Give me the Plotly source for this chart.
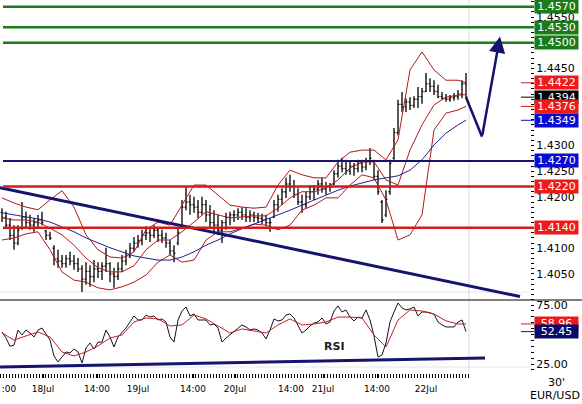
import plotly.graph_objects as go

# ---------------- data ----------------
bar_idx = list(range(117))
opens = [
1.4170, 1.4160, 1.4145, 1.4125, 1.4110, 1.4140, 1.4160, 1.4150, 1.4145, 1.4150,
1.4155, 1.4134, 1.4125, 1.4100, 1.4080, 1.4075, 1.4070, 1.4080, 1.4075, 1.4070,
1.4060, 1.4040, 1.4055, 1.4045, 1.4060, 1.4055, 1.4065, 1.4070, 1.4050, 1.4045,
1.4060, 1.4075, 1.4085, 1.4100, 1.4110, 1.4115, 1.4125, 1.4130, 1.4125, 1.4135,
1.4125, 1.4120, 1.4110, 1.4095, 1.4110, 1.4140, 1.4180, 1.4190, 1.4185, 1.4180,
1.4170, 1.4185, 1.4165, 1.4150, 1.4145, 1.4135, 1.4150, 1.4160, 1.4165, 1.4165,
1.4170, 1.4165, 1.4160, 1.4165, 1.4160, 1.4158, 1.4155, 1.4150, 1.4160, 1.4185,
1.4195, 1.4210, 1.4225, 1.4220, 1.4205, 1.4190, 1.4185, 1.4200, 1.4210, 1.4215,
1.4225, 1.4215, 1.4220, 1.4225, 1.4245, 1.4260, 1.4255, 1.4250, 1.4260, 1.4255,
1.4265, 1.4258, 1.4270, 1.4270, 1.4240, 1.4190, 1.4165, 1.4210, 1.4275, 1.4325,
1.4380, 1.4375, 1.4385, 1.4378, 1.4390, 1.4395, 1.4405, 1.4420, 1.4415, 1.4405,
1.4395, 1.4392, 1.4390, 1.4393, 1.4395, 1.4400, 1.4420]
highs = [
1.4178, 1.4171, 1.4159, 1.4145, 1.4145, 1.4190, 1.4171, 1.4165, 1.4159, 1.4165,
1.4171, 1.4136, 1.4132, 1.4106, 1.4097, 1.4087, 1.4087, 1.4093, 1.4087, 1.4081,
1.4067, 1.4073, 1.4067, 1.4077, 1.4073, 1.4073, 1.4101, 1.4073, 1.4062, 1.4073,
1.4087, 1.4097, 1.4110, 1.4122, 1.4126, 1.4136, 1.4143, 1.4139, 1.4145, 1.4139,
1.4136, 1.4130, 1.4116, 1.4106, 1.4141, 1.4194, 1.4221, 1.4204, 1.4200, 1.4194,
1.4200, 1.4194, 1.4184, 1.4174, 1.4165, 1.4155, 1.4169, 1.4171, 1.4174, 1.4178,
1.4180, 1.4178, 1.4174, 1.4171, 1.4169, 1.4167, 1.4165, 1.4159, 1.4194, 1.4204,
1.4217, 1.4237, 1.4243, 1.4233, 1.4217, 1.4204, 1.4210, 1.4223, 1.4223, 1.4233,
1.4237, 1.4229, 1.4227, 1.4252, 1.4272, 1.4276, 1.4272, 1.4268, 1.4266, 1.4272,
1.4272, 1.4276, 1.4295, 1.4272, 1.4252, 1.4194, 1.4213, 1.4272, 1.4334, 1.4389,
1.4404, 1.4392, 1.4394, 1.4396, 1.4414, 1.4412, 1.4441, 1.4431, 1.4427, 1.4418,
1.4404, 1.4400, 1.4398, 1.4402, 1.4408, 1.4427, 1.4441]
lows = [
1.4151, 1.4139, 1.4116, 1.4097, 1.4106, 1.4136, 1.4139, 1.4136, 1.4132, 1.4139,
1.4145, 1.4116, 1.4116, 1.4067, 1.4062, 1.4062, 1.4062, 1.4067, 1.4058, 1.4054,
1.4015, 1.4029, 1.4025, 1.4034, 1.4042, 1.4038, 1.4054, 1.4034, 1.4023, 1.4038,
1.4054, 1.4067, 1.4081, 1.4093, 1.4101, 1.4106, 1.4116, 1.4112, 1.4120, 1.4112,
1.4110, 1.4101, 1.4087, 1.4073, 1.4106, 1.4139, 1.4174, 1.4165, 1.4169, 1.4159,
1.4165, 1.4151, 1.4139, 1.4132, 1.4126, 1.4110, 1.4136, 1.4145, 1.4151, 1.4155,
1.4155, 1.4151, 1.4151, 1.4151, 1.4149, 1.4147, 1.4143, 1.4132, 1.4159, 1.4171,
1.4184, 1.4198, 1.4210, 1.4198, 1.4184, 1.4169, 1.4178, 1.4194, 1.4194, 1.4204,
1.4208, 1.4204, 1.4210, 1.4223, 1.4237, 1.4248, 1.4243, 1.4243, 1.4241, 1.4248,
1.4248, 1.4252, 1.4262, 1.4233, 1.4204, 1.4149, 1.4161, 1.4204, 1.4272, 1.4320,
1.4365, 1.4365, 1.4369, 1.4373, 1.4373, 1.4381, 1.4404, 1.4404, 1.4398, 1.4392,
1.4389, 1.4385, 1.4385, 1.4387, 1.4389, 1.4392, 1.4392]
closes = [
1.4160, 1.4145, 1.4125, 1.4110, 1.4135, 1.4160, 1.4150, 1.4145, 1.4150, 1.4155,
1.4150, 1.4125, 1.4120, 1.4080, 1.4075, 1.4070, 1.4080, 1.4075, 1.4070, 1.4060,
1.4040, 1.4055, 1.4045, 1.4060, 1.4055, 1.4065, 1.4070, 1.4050, 1.4045, 1.4060,
1.4075, 1.4085, 1.4100, 1.4110, 1.4115, 1.4125, 1.4130, 1.4125, 1.4135, 1.4125,
1.4120, 1.4110, 1.4095, 1.4090, 1.4130, 1.4180, 1.4190, 1.4185, 1.4180, 1.4170,
1.4185, 1.4165, 1.4150, 1.4145, 1.4135, 1.4150, 1.4160, 1.4165, 1.4165, 1.4170,
1.4165, 1.4160, 1.4165, 1.4160, 1.4158, 1.4155, 1.4150, 1.4150, 1.4185, 1.4195,
1.4210, 1.4225, 1.4220, 1.4205, 1.4190, 1.4185, 1.4200, 1.4210, 1.4215, 1.4225,
1.4215, 1.4220, 1.4222, 1.4245, 1.4260, 1.4255, 1.4250, 1.4260, 1.4255, 1.4265,
1.4258, 1.4270, 1.4275, 1.4240, 1.4210, 1.4155, 1.4195, 1.4265, 1.4325, 1.4380,
1.4375, 1.4385, 1.4378, 1.4390, 1.4395, 1.4405, 1.4420, 1.4415, 1.4405, 1.4395,
1.4392, 1.4390, 1.4393, 1.4395, 1.4400, 1.4420, 1.4394]

band_idx = list(range(0, 115, 3)) + [116]
bb_upper = [
1.4198, 1.4188, 1.4180, 1.4175, 1.4194, 1.4212, 1.4180, 1.4126, 1.4097, 1.4083,
1.4081, 1.4093, 1.4136, 1.4151, 1.4145, 1.4184, 1.4223, 1.4223, 1.4204, 1.4184,
1.4180, 1.4178, 1.4180, 1.4223, 1.4252, 1.4243, 1.4237, 1.4237, 1.4268, 1.4287,
1.4291, 1.4291, 1.4272, 1.4311, 1.4447, 1.4482, 1.4447, 1.4427, 1.4427, 1.4422]
bb_mid = [
1.4159, 1.4155, 1.4155, 1.4151, 1.4139, 1.4126, 1.4106, 1.4081, 1.4062, 1.4054,
1.4054, 1.4066, 1.4097, 1.4116, 1.4116, 1.4132, 1.4151, 1.4171, 1.4165, 1.4159,
1.4161, 1.4163, 1.4163, 1.4178, 1.4198, 1.4210, 1.4210, 1.4217, 1.4233, 1.4256,
1.4268, 1.4268, 1.4233, 1.4223, 1.4291, 1.4340, 1.4379, 1.4394, 1.4398, 1.4399]
bb_lower = [
1.4116, 1.4120, 1.4128, 1.4132, 1.4097, 1.4054, 1.4038, 1.4034, 1.4023, 1.4019,
1.4025, 1.4034, 1.4048, 1.4073, 1.4087, 1.4073, 1.4077, 1.4116, 1.4132, 1.4132,
1.4139, 1.4147, 1.4145, 1.4136, 1.4145, 1.4174, 1.4184, 1.4198, 1.4198, 1.4223,
1.4243, 1.4237, 1.4194, 1.4116, 1.4126, 1.4165, 1.4330, 1.4363, 1.4369, 1.4376]
ma_line = [
1.4169, 1.4165, 1.4161, 1.4157, 1.4151, 1.4141, 1.4132, 1.4120, 1.4110, 1.4101,
1.4093, 1.4085, 1.4081, 1.4077, 1.4077, 1.4083, 1.4093, 1.4106, 1.4116, 1.4128,
1.4138, 1.4147, 1.4155, 1.4165, 1.4174, 1.4184, 1.4194, 1.4204, 1.4213, 1.4221,
1.4227, 1.4233, 1.4237, 1.4241, 1.4252, 1.4272, 1.4301, 1.4324, 1.4340, 1.4349]

rsi = [
52.1, 47.0, 40.0, 41.0, 53.8, 49.6, 53.8, 51.3, 47.9, 53.8,
55.5, 50.5, 45.3, 31.8, 26.7, 30.9, 35.2, 34.3, 37.7, 35.2,
25.8, 38.6, 42.8, 37.7, 43.6, 43.6, 53.8, 47.9, 39.4, 47.9,
51.3, 55.5, 60.6, 65.7, 62.3, 62.3, 66.5, 64.8, 65.7, 62.3,
63.2, 60.6, 47.9, 43.6, 62.3, 70.0, 73.3, 65.7, 67.4, 62.3,
62.3, 62.3, 58.1, 58.9, 55.5, 43.6, 47.0, 49.6, 53.0, 55.5,
58.1, 56.4, 53.8, 54.7, 53.8, 51.3, 46.2, 53.8, 63.2, 61.5,
62.3, 66.5, 67.4, 64.0, 57.2, 51.3, 53.8, 57.2, 59.7, 60.6,
64.0, 58.9, 60.6, 70.0, 74.2, 69.1, 70.8, 64.8, 61.5, 64.8,
64.0, 70.8, 62.3, 48.8, 30.9, 32.6, 42.8, 60.6, 69.1, 76.7,
72.5, 70.8, 71.7, 73.3, 65.7, 69.1, 69.1, 68.2, 67.4, 60.6,
58.1, 56.4, 56.4, 56.4, 60.6, 62.3, 52.45]
rsi_signal = [
51.3, 45.3, 48.8, 52.1, 47.9, 35.2, 31.8, 35.2, 40.3, 47.0,
49.6, 60.6, 64.0, 63.2, 57.2, 58.1, 66.5, 63.2, 57.2, 51.3,
54.7, 53.0, 51.3, 58.1, 63.2, 58.1, 58.9, 60.6, 64.8, 64.8,
64.0, 49.6, 39.4, 62.3, 70.8, 69.9, 67.4, 61.5, 58.9, 58.96]

tick_pos = [1.75, 10.25, 23.75, 34, 47.75, 58.25, 72.25, 80.25, 93.75, 106]
tick_text = [":00", "18Jul", "14:00", "19Jul", "14:00", "20Jul", "14:00", "21Jul", "14:00", "22Jul"]

green_levels = [1.4570, 1.4530, 1.4500]
blue_levels = [1.4270]
red_levels = [1.4220, 1.4140]
trend_x = [-0.5, 129.5]
trend_y = [1.4218, 1.4006]
rsi_trend_x = [-0.5, 120.75]
rsi_trend_y = [22.5, 30.1]
forecast_x = [116, 120, 124.5]
forecast_y = [1.4394, 1.4317, 1.4512]
# axis labels that stay visible (the others sit behind the value boxes)
price_ticks = [1.4050, 1.4100, 1.4200, 1.4250, 1.4300, 1.4450, 1.4550]
rsi_ticks = [25, 75]

# ---------------- styling ----------------
FONT = "DejaVu Sans"
NAVY = "#14146e"
RED = "#d41a1a"
BAND = "#b01818"
GREEN = "#1b7b1b"
PW = 530.0   # plot width in px
PH = 373.0   # plot height in px
def px(v):
    return v / PW
def py(v):   # pixel row (from top) -> paper y
    return (PH - v) / PH

fig = go.Figure()

fig.add_trace(go.Ohlc(x=bar_idx, open=opens, high=highs, low=lows, close=closes,
                      increasing=dict(line=dict(color="black", width=1.3)),
                      decreasing=dict(line=dict(color="black", width=1.3)),
                      tickwidth=0.35, xaxis="x", yaxis="y", hoverinfo="skip"))
for arr, col in [(bb_upper, BAND), (bb_mid, BAND), (bb_lower, BAND), (ma_line, "#22228e")]:
    fig.add_trace(go.Scatter(x=band_idx, y=arr, mode="lines",
                             line=dict(color=col, width=1), xaxis="x", yaxis="y"))
fig.add_trace(go.Scatter(x=trend_x, y=trend_y, mode="lines",
                         line=dict(color=NAVY, width=3), xaxis="x", yaxis="y"))
fig.add_trace(go.Scatter(x=forecast_x[:2], y=forecast_y[:2], mode="lines",
                         line=dict(color=NAVY, width=2.5), xaxis="x", yaxis="y"))

fig.add_trace(go.Scatter(x=bar_idx, y=rsi, mode="lines",
                         line=dict(color="#10102a", width=1), xaxis="x2", yaxis="y2"))
fig.add_trace(go.Scatter(x=band_idx, y=rsi_signal, mode="lines",
                         line=dict(color="#c42020", width=1), xaxis="x2", yaxis="y2"))
fig.add_trace(go.Scatter(x=rsi_trend_x, y=rsi_trend_y, mode="lines",
                         line=dict(color=NAVY, width=3), xaxis="x2", yaxis="y2"))

shapes = []
annos = []
def level_line(v, col, w):
    shapes.append(dict(type="line", xref="paper", yref="y", x0=px(3), x1=px(534),
                       y0=v, y1=v, line=dict(color=col, width=w), layer="above"))

def box(v, text, bg, yref="y", fc="white"):
    annos.append(dict(xref="paper", yref=yref, x=px(534), y=v, xanchor="left",
                      yanchor="middle", text=text, showarrow=False, bgcolor=bg,
                      width=43, height=13, borderpad=0, align="center",
                      font=dict(family=FONT, size=11, color=fc)))

def dash(v, col, yref="y"):
    shapes.append(dict(type="line", xref="paper", yref=yref, x0=px(521), x1=px(534),
                       y0=v, y1=v, line=dict(color=col, width=1)))

# faint panel borders
for row in (292, 367):
    shapes.append(dict(type="line", xref="paper", yref="paper", x0=0, x1=1,
                       y0=py(row), y1=py(row), line=dict(color="#e6e6e6", width=1),
                       layer="below"))

for v in green_levels:
    level_line(v, GREEN, 2.5)
for v in blue_levels:
    level_line(v, NAVY, 2)
for v in red_levels:
    level_line(v, RED, 2.5)

# grey separator of data end
shapes.append(dict(type="line", xref="x", yref="paper", x0=116.75, x1=116.75, y0=0, y1=1,
                   line=dict(color="#dadada", width=1), layer="below"))
# panel separator
sep = 73 / PH
shapes.append(dict(type="line", xref="paper", yref="paper", x0=0, x1=px(582), y0=sep, y1=sep,
                   line=dict(color="black", width=1)))
# time-axis ticks stop at the end of the data
shapes.append(dict(type="rect", xref="paper", yref="paper", x0=px(470), x1=px(529),
                   y0=py(381), y1=py(373.5), fillcolor="white", line=dict(width=0),
                   layer="above"))

for v in green_levels:
    box(v, f"{v:.4f}", GREEN)
for v in blue_levels:
    box(v, f"{v:.4f}", "#0a0ad0")
for v in red_levels:
    box(v, f"{v:.4f}", "#ee1a1a")

dash(bb_upper[-1], RED); dash(closes[-1], "black"); dash(bb_lower[-1], RED); dash(ma_line[-1], "#1010c0")
box(bb_upper[-1], f"{bb_upper[-1]:.4f}", "#ee1a1a")
box(closes[-1], f"{closes[-1]:.4f}", "black")
box(bb_lower[-1], f"{bb_lower[-1]:.4f}", "#ee1a1a")
box(ma_line[-1], f"{ma_line[-1]:.4f}", "#0a0ad0")

dash(rsi_signal[-1], RED, "y2"); dash(rsi[-1], NAVY, "y2")
box(rsi_signal[-1], f"{rsi_signal[-1]:.2f}", "#ee1a1a", "y2")
box(rsi[-1], f"{rsi[-1]:.2f}", "#0a0a6a", "y2")

# forecast arrow head leg
annos.append(dict(x=forecast_x[2], y=forecast_y[2], ax=forecast_x[1], ay=forecast_y[1],
                  xref="x", yref="y", axref="x", ayref="y", showarrow=True, text="",
                  arrowhead=2, arrowsize=1.3, arrowwidth=2.5, arrowcolor=NAVY))

annos.append(dict(xref="x2", yref="y2", x=83, y=40, text="<b>RSI</b>", showarrow=False,
                  font=dict(family=FONT, size=11, color="#1a1a2a")))
annos.append(dict(xref="paper", yref="paper", x=px(556), y=py(382), text="30'",
                  showarrow=False, yanchor="middle", xanchor="center",
                  font=dict(family=FONT, size=11, color="black")))
annos.append(dict(xref="paper", yref="paper", x=px(555), y=py(395), text="EUR/USD",
                  showarrow=False, yanchor="middle", xanchor="center",
                  font=dict(family=FONT, size=11, color="black")))

xr = [-0.5, 132]
fig.update_layout(
    width=582, height=404, margin=dict(l=0, r=52, t=0, b=31),
    paper_bgcolor="white", plot_bgcolor="white", showlegend=False,
    font=dict(family=FONT, size=11, color="black"),
    shapes=shapes, annotations=annos,
    xaxis=dict(domain=[0, 1], range=xr, anchor="y", showticklabels=False, ticks="",
               showgrid=False, zeroline=False, showline=False,
               rangeslider=dict(visible=False)),
    xaxis2=dict(domain=[0, 1], range=xr, anchor="y2", matches="x",
                tickmode="array", tickvals=tick_pos, ticktext=tick_text,
                ticks="outside", ticklen=4, tickcolor="black", tickwidth=1,
                ticklabelstandoff=3,
                tickfont=dict(family=FONT, size=9, color="black"),
                minor=dict(ticks="outside", ticklen=4, tickcolor="black", dtick=0.75, tick0=-0.5),
                showgrid=False, zeroline=False, showline=False),
    yaxis=dict(domain=[sep, 1], range=[1.39993, 1.45831], side="right", anchor="x",
               tickmode="array", tickvals=price_ticks, ticktext=[f"{v:.4f}" for v in price_ticks],
               ticks="outside", ticklen=3, tickcolor="black",
               minor=dict(ticks="outside", ticklen=3, tickcolor="black", dtick=0.001, tick0=1.4),
               tickfont=dict(family=FONT, size=11, color="black"),
               showgrid=False, zeroline=False, showline=False),
    yaxis2=dict(domain=[0, sep], range=[17.37, 79.24], side="right", anchor="x2",
                tickmode="array", tickvals=rsi_ticks, ticktext=[f"{v:.2f}" for v in rsi_ticks],
                ticks="outside", ticklen=3, tickcolor="black",
                minor=dict(ticks="outside", ticklen=3, tickcolor="black", dtick=5, tick0=0),
                tickfont=dict(family=FONT, size=11, color="black"),
                showgrid=False, zeroline=False, showline=False),
)

fig.write_html("out.html")
